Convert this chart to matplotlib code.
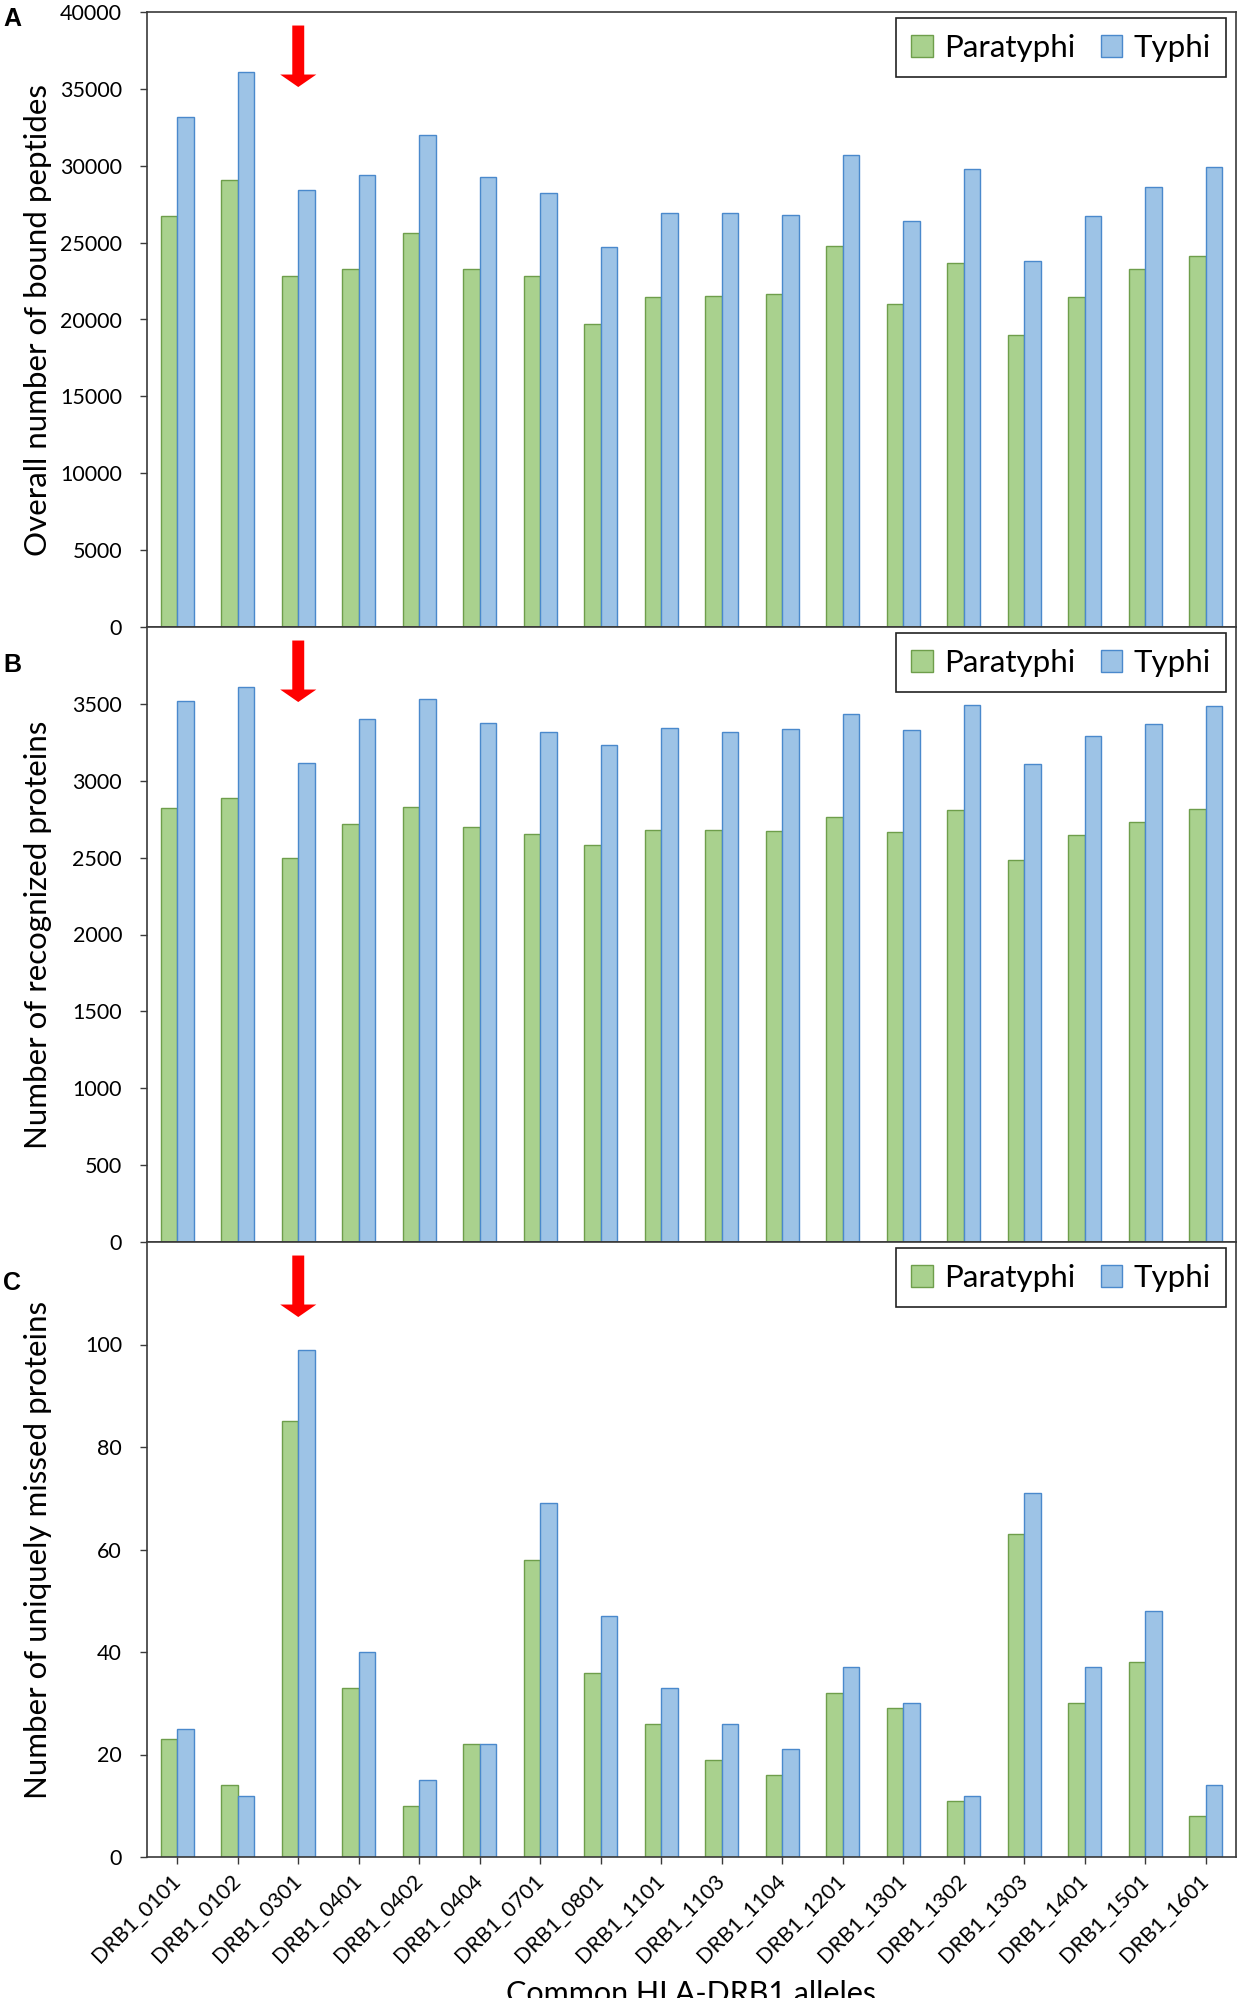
import numpy as np
import matplotlib
matplotlib.use("Agg")
import matplotlib.pyplot as plt

alleles = ["DRB1_0101", "DRB1_0102", "DRB1_0301", "DRB1_0401", "DRB1_0402", "DRB1_0404",
           "DRB1_0701", "DRB1_0801", "DRB1_1101", "DRB1_1103", "DRB1_1104", "DRB1_1201",
           "DRB1_1301", "DRB1_1302", "DRB1_1303", "DRB1_1401", "DRB1_1501", "DRB1_1601"]

# A: overall number of bound peptides
peptides_paratyphi = [26700, 29050, 22800, 23300, 25600, 23300, 22800, 19700, 21450,
                      21550, 21650, 24800, 21000, 23700, 19000, 21450, 23300, 24100]
peptides_typhi = [33200, 36100, 28400, 29400, 32000, 29300, 28200, 24700, 26900,
                  26900, 26800, 30700, 26400, 29800, 23800, 26700, 28600, 29900]

# B: number of recognized proteins
recognized_paratyphi = [2824, 2886, 2500, 2718, 2830, 2697, 2654, 2585, 2678,
                        2678, 2673, 2761, 2665, 2809, 2484, 2644, 2729, 2816]
recognized_typhi = [3521, 3609, 3114, 3402, 3529, 3378, 3319, 3231, 3340,
                    3314, 3335, 3431, 3330, 3492, 3112, 3293, 3372, 3489]

# C: number of uniquely missed proteins
missed_paratyphi = [23, 14, 85, 33, 10, 22, 58, 36, 26, 19, 16, 32, 29, 11, 63, 30, 38, 8]
missed_typhi = [25, 12, 99, 40, 15, 22, 69, 47, 33, 26, 21, 37, 30, 12, 71, 37, 48, 14]

highlight = "DRB1_0301"

plt.rcParams['font.family'] = ['Lato', 'DejaVu Sans']

W, H = 1237, 1998
fig = plt.figure(figsize=(W / 100, H / 100), dpi=100)

left = 147 / W
width = 1089 / W
ph = 615 / H
bottoms = [1 - 627 / H, 1 - 1242 / H, 1 - 1857 / H]

green, green_edge = "#A9D18E", "#6E9E4B"
blue, blue_edge = "#9DC3E6", "#4A89CC"
spine_col = "#3a3a3a"

x = np.arange(len(alleles))
bw = 0.275


def draw_panel(ax, para, typhi, ymax, yticks, ylabel, last=False):
    ax.bar(x - bw / 2, para, bw, color=green, edgecolor=green_edge, linewidth=1.0, label="Paratyphi")
    ax.bar(x + bw / 2, typhi, bw, color=blue, edgecolor=blue_edge, linewidth=1.0, label="Typhi")
    ax.set_xlim(-0.5, len(alleles) - 0.5)
    ax.set_ylim(0, ymax)
    ax.set_yticks(yticks)
    ax.tick_params(axis='y', labelsize=15.5, length=5, width=1.0, color=spine_col, pad=13)
    for s in ax.spines.values():
        s.set_color(spine_col)
        s.set_linewidth(1.2)
    ax.set_ylabel(ylabel, fontsize=22.5)
    ax.yaxis.set_label_coords(-0.087, 0.5)
    if last:
        ax.set_xticks(x)
        ax.set_xticklabels(alleles, rotation=45, ha='right', va='center',
                           rotation_mode='anchor', fontsize=15.5)
        ax.tick_params(axis='x', length=5, width=1.0, color=spine_col, pad=10)
    else:
        ax.tick_params(axis='x', bottom=False, labelbottom=False)
    ax.legend(loc='upper right', bbox_to_anchor=(0.991, 0.99), ncol=2, fontsize=22.5,
              frameon=True, fancybox=False, edgecolor='#222222', framealpha=1,
              handlelength=0.7, handleheight=0.7, handletextpad=0.35,
              columnspacing=0.8, borderpad=0.5, borderaxespad=0)
    leg = ax.get_legend()
    leg.get_frame().set_linewidth(1.2)
    # red arrow above the highlighted allele
    ax.annotate('', xy=(alleles.index(highlight), 0.878), xytext=(alleles.index(highlight), 0.978),
                xycoords=('data', 'axes fraction'), textcoords=('data', 'axes fraction'),
                arrowprops=dict(arrowstyle='simple,head_width=26,head_length=9,tail_width=8.6',
                                mutation_scale=1, color='#FF0000', shrinkA=0, shrinkB=0, lw=0))


axA = fig.add_axes([left, bottoms[0], width, ph])
draw_panel(axA, peptides_paratyphi, peptides_typhi, 40000, np.arange(0, 40001, 5000),
           "Overall number of bound peptides")

axB = fig.add_axes([left, bottoms[1], width, ph])
draw_panel(axB, recognized_paratyphi, recognized_typhi, 4000, np.arange(0, 3501, 500),
           "Number of recognized proteins")

axC = fig.add_axes([left, bottoms[2], width, ph])
draw_panel(axC, missed_paratyphi, missed_typhi, 120, np.arange(0, 101, 20),
           "Number of uniquely missed proteins", last=True)

for letter, ytop in [("A", 7), ("B", 653), ("C", 1271)]:
    fig.text(3 / W, 1 - ytop / H, letter, fontsize=18, fontweight='bold',
             family=['Liberation Sans', 'DejaVu Sans'], ha='left', va='top')

fig.text(left + width / 2, 1 - 1980 / H, "Common HLA-DRB1 alleles", ha='center', va='top', fontsize=22)

fig.savefig("out.png", dpi=100)
